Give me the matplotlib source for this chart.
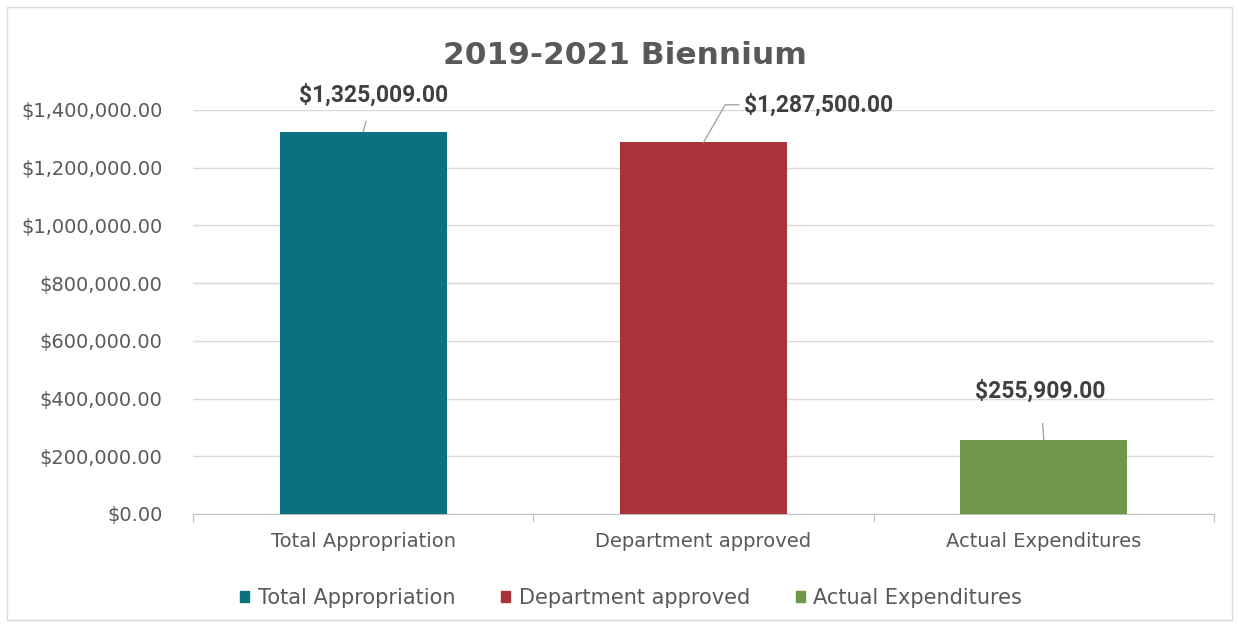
import matplotlib.pyplot as plt
from matplotlib.patches import Rectangle
from matplotlib.ticker import FuncFormatter

categories = ['Total Appropriation', 'Department approved', 'Actual Expenditures']
amounts = [1325009.00, 1287500.00, 255909.00]
colors = ['#0A727F', '#A8343A', '#6F974A']
yticks = [0, 200000, 400000, 600000, 800000, 1000000, 1200000, 1400000]

fig = plt.figure(figsize=(12.39, 6.27), dpi=100)
ax = fig.add_axes([193/1239, 1 - 514/627, (1214 - 193)/1239, (514 - 110)/627])

# outer chart border
fig.patches.append(Rectangle((7/1239, 7/627), 1225/1239, 613/627, transform=fig.transFigure,
                             fill=False, edgecolor='#D9D9D9', linewidth=1.0))

x = range(len(categories))
ax.bar(x, amounts, width=0.49, color=colors, zorder=3)

ax.set_xlim(-0.5, 2.5)
ax.set_ylim(0, 1400000)
ax.set_yticks(yticks)
ax.yaxis.set_major_formatter(FuncFormatter(lambda v, p: '${:,.2f}'.format(v)))
ax.grid(axis='y', color='#D9D9D9', linewidth=1.0, zorder=0)
for s in ['top', 'right', 'left']:
    ax.spines[s].set_visible(False)
ax.spines['bottom'].set_color('#BFBFBF')
ax.tick_params(axis='y', length=0, labelsize=14, labelcolor='#595959', pad=22)

# category labels between the minor ticks
ax.set_xticks([-0.5, 0.5, 1.5, 2.5])
ax.set_xticklabels([])
ax.tick_params(axis='x', length=6, color='#BFBFBF', direction='out')
for i, c in enumerate(categories):
    ax.text(i, -0.045, c, transform=ax.get_xaxis_transform(), ha='center', va='top',
            fontsize=14, color='#595959')

# data labels with leader lines
lab = dict(fontsize=16.5, fontweight='bold', color='#404040', family='Roboto')
lc = '#A6A6A6'
ax.annotate('${:,.2f}'.format(amounts[0]), xy=(0, amounts[0]), xytext=(0.03, 1453000),
            ha='center', va='center', **lab,
            arrowprops=dict(arrowstyle='-', color=lc, lw=1, shrinkA=9, shrinkB=0))
ax.annotate('${:,.2f}'.format(amounts[1]), xy=(1, amounts[1]), xytext=(1.12, 1418000),
            ha='left', va='center', **lab,
            arrowprops=dict(arrowstyle='-', color=lc, lw=1, shrinkA=2, shrinkB=0,
                            connectionstyle='angle,angleA=0,angleB=60,rad=0'))
ax.annotate('${:,.2f}'.format(amounts[2]), xy=(2, amounts[2]), xytext=(1.99, 426000),
            ha='center', va='center', **lab,
            arrowprops=dict(arrowstyle='-', color=lc, lw=1, shrinkA=13, shrinkB=0))

fig.text(625/1239, 1 - 55/627, '2019-2021 Biennium', ha='center', va='center',
         fontsize=22.5, fontweight='bold', color='#595959')

handles = [Rectangle((0, 0), 1, 1, color=c) for c in colors]
fig.legend(handles, categories, loc='center', bbox_to_anchor=(631/1239, 1 - 598/627),
           ncol=3, frameon=False, fontsize=15, labelcolor='#595959',
           handlelength=0.45, handleheight=0.45, handletextpad=0.4, columnspacing=2.2)

fig.savefig('out.png', dpi=100)
